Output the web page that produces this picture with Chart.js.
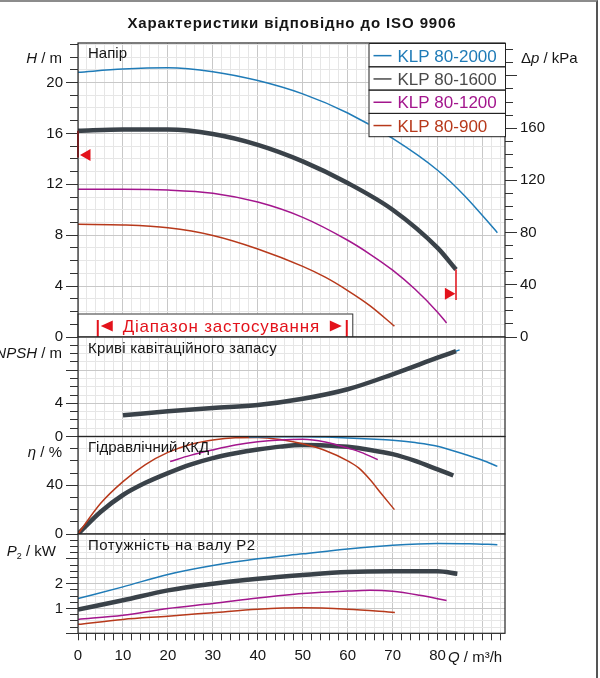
<!DOCTYPE html>
<html lang="uk">
<head>
<meta charset="utf-8">
<title>KLP 80 — характеристики</title>
<script src="https://cdn.jsdelivr.net/npm/chart.js@4.4.1/dist/chart.umd.min.js"></script>
<style>
  html, body { margin: 0; padding: 0; background: #fff; }
  #sheet { position: relative; width: 600px; height: 678px; overflow: hidden; }
  #sheet canvas { position: absolute; left: 0; top: 0; }
  #frame { position: absolute; left: -4px; top: 0; width: 602px; height: 700px;
           border-top: 2px solid #8c8c8c; border-right: 2px solid #555; box-sizing: border-box; }
</style>
</head>
<body>
<div id="sheet">
  <canvas id="headChart" width="600" height="678"></canvas>
  <canvas id="npshChart" width="600" height="678"></canvas>
  <canvas id="effChart" width="600" height="678"></canvas>
  <canvas id="powerChart" width="600" height="678"></canvas>
  <div id="frame"></div>
</div>
<script>
// pump models, same order as the legend
const models = ['KLP 80-2000', 'KLP 80-1600', 'KLP 80-1200', 'KLP 80-900'];

// head H / m
const headQ2000 = [0, 10, 20, 30, 40, 50, 60, 70, 80, 86, 93.3];
const head2000 = [20.8, 21.05, 21.15, 20.85, 20.15, 19.1, 17.6, 15.6, 13.1, 11.1, 8.2];
const headQ1600 = [0, 10, 20, 30, 40, 50, 60, 70, 80, 84.1];
const head1600 = [16.2, 16.3, 16.3, 15.95, 15.1, 13.8, 12.1, 10.0, 7.0, 5.3];
const headQ1200 = [0, 10, 20, 30, 40, 50, 60, 65, 70, 75, 80, 82];
const head1200 = [11.6, 11.6, 11.55, 11.3, 10.6, 9.4, 7.6, 6.5, 5.25, 3.75, 1.95, 1.1];
const headQ900 = [0, 10, 20, 30, 40, 50, 55, 60, 65, 70.4];
const head900 = [8.85, 8.8, 8.58, 7.98, 6.92, 5.55, 4.7, 3.65, 2.45, 0.85];

// NPSH / m
const npshQ2000 = [10, 20, 30, 40, 50, 60, 70, 80, 84.9];
const npsh2000 = [2.55, 3.05, 3.45, 3.8, 4.55, 5.7, 7.5, 9.5, 10.45];
const npshQ1600 = [10, 20, 30, 40, 50, 60, 70, 80, 84.1];
const npsh1600 = [2.55, 3.05, 3.45, 3.8, 4.55, 5.7, 7.5, 9.5, 10.3];

// hydraulic efficiency eta / %
const effQ2000 = [38, 45, 50, 55, 60, 65, 70, 75, 80, 86.3, 90, 93.3];
const eff2000 = [79.5, 79.8, 79.8, 79.5, 78.8, 78, 77, 75, 72, 65, 60.5, 55.5];
const effQ1600 = [0, 5, 10, 15, 20, 25, 30, 35, 40, 45, 50, 55, 60, 65, 70, 75, 80, 83.5];
const eff1600 = [0, 18, 32, 42, 50, 57, 62.3, 66.2, 69.3, 71.7, 73, 72.7, 71.5, 69.0, 65.5, 60, 53, 48];
const effQ1200 = [20.5, 25, 30, 35, 40, 45, 50, 55, 60, 63, 66.7];
const eff1200 = [59.5, 64.5, 69, 73, 75.7, 77.2, 77.7, 75.5, 70.5, 67, 61];
const effQ900 = [0, 5, 10, 15, 20, 25, 30, 35, 40, 45, 50, 55, 60, 62.5, 65, 67.5, 70.4];
const eff900 = [0, 25, 43, 57, 67, 73.5, 77.2, 79, 79.2, 77.5, 74, 68.5, 60, 54, 44.5, 33, 20];

// shaft power P2 / kW
const powQ2000 = [0, 10, 20, 30, 40, 50, 60, 70, 80, 87, 93.3];
const pow2000 = [1.4, 1.87, 2.37, 2.73, 3.0, 3.2, 3.4, 3.55, 3.62, 3.61, 3.57];
const powQ1600 = [0, 10, 20, 30, 40, 50, 60, 70, 80, 84.4];
const pow1600 = [0.96, 1.33, 1.73, 2.0, 2.2, 2.35, 2.47, 2.5, 2.5, 2.4];
const powQ1200 = [0, 10, 20, 30, 40, 50, 60, 65, 70, 76, 82];
const pow1200 = [0.56, 0.73, 1.0, 1.2, 1.42, 1.6, 1.7, 1.73, 1.69, 1.53, 1.32];
const powQ900 = [0, 10, 20, 30, 40, 50, 60, 70.5];
const pow900 = [0.36, 0.56, 0.69, 0.83, 0.97, 1.03, 0.97, 0.84];

// application range and the red limit marks of KLP 80-1600
const rangeQ = [4.4, 59.8];
const leftLimitQ = [0, 0];
const leftLimitH = [16.2, 14.1];
const rightLimitQ = [84.1, 84.1];
const rightLimitH = [5.3, 2.9];
const arrowQ = [2.0, 82.4];
const arrowH = [14.3, 3.4];

// tick labels
const qLabels = [0, 10, 20, 30, 40, 50, 60, 70, 80];
const hLabels = [0, 4, 8, 12, 16, 20];
const dpLabels = [0, 40, 80, 120, 160];
const npshLabels = [0, 4];
const effLabels = [0, 40];
const powLabels = [1, 2];

const lineColors = ['#1f7bb7', '#3a4249', '#a3168d', '#b7391b'];
const legendColors = ['#1f7bb7', '#4a4a4a', '#a3168d', '#b7391b'];
const lineWidths = [1.5, 4.5, 1.5, 1.5];

const PAGE_H = 678;
const Q_MAX = 95;
const LEFT_W = 78;
const RIGHT_W = 95;
const GRID_MAJOR = '#c8c8c8';
const GRID_MINOR = '#e6e6e6';
const INK = '#151515';
const RED = '#e3121b';
const FONT = '"Liberation Sans", Arial, Helvetica, sans-serif';

Chart.defaults.font.family = FONT;
Chart.defaults.font.size = 15;
Chart.defaults.color = INK;

function toPoints(q, v) {
  return q.map((x, i) => ({ x: x, y: v[i] }));
}

function curve(q, v, i) {
  return {
    label: models[i],
    data: toPoints(q, v),
    yAxisID: 'y',
    borderColor: lineColors[i],
    borderWidth: lineWidths[i],
    borderJoinStyle: 'round',
    pointRadius: 0,
    cubicInterpolationMode: 'monotone',
    order: i === 1 ? 5 : i
  };
}

function xScale(bottom, showLabels) {
  return {
    type: 'linear', min: 0, max: Q_MAX,
    afterFit: s => { s.height = PAGE_H - bottom; },
    ticks: {
      display: showLabels, stepSize: 2, includeBounds: false, autoSkip: false, maxRotation: 0, padding: 7,
      callback: v => qLabels.includes(v) ? String(v) : ''
    },
    grid: {
      color: c => c.tick.value % 10 === 0 ? GRID_MAJOR : GRID_MINOR,
      drawTicks: showLabels, tickLength: 7, tickColor: '#333'
    },
    border: { display: false }
  };
}

// a labelled axis with long ticks plus a thin one with the short minor ticks
function yPair(id, o) {
  const scales = {};
  scales[id] = {
    type: 'linear', position: o.position, min: o.min, max: o.max, weight: 1,
    afterFit: s => { s.width = o.width; },
    ticks: {
      stepSize: o.major, includeBounds: false, autoSkip: false, padding: 3,
      callback: v => o.labels.includes(v) ? String(v) : ''
    },
    grid: { drawOnChartArea: o.grid, color: GRID_MAJOR, tickLength: 12, tickColor: '#333' },
    border: { display: false }
  };
  scales[id + 'Minor'] = {
    type: 'linear', position: o.position, min: o.min, max: o.max, weight: 0,
    afterFit: s => { s.width = 0; },
    ticks: { display: false, stepSize: o.minor, includeBounds: false, autoSkip: false },
    grid: {
      drawOnChartArea: o.grid,
      color: c => Math.abs(c.tick.value % o.major) < 1e-9 ? 'rgba(0,0,0,0)' : GRID_MINOR,
      tickLength: 8, tickColor: '#333'
    },
    border: { display: false }
  };
  return scales;
}

function drawText(ctx, parts, x, y, align, spacing) {
  ctx.letterSpacing = (spacing || 0) + 'px';
  const fonts = parts.map(p => (p.italic ? 'italic ' : '') + (p.bold ? 'bold ' : '') + (p.size || 15) + 'px ' + FONT);
  const widths = parts.map((p, i) => { ctx.font = fonts[i]; return ctx.measureText(p.text).width; });
  const total = widths.reduce((s, w) => s + w, 0);
  let cx = align === 'right' ? x - total : align === 'center' ? x - total / 2 : x;
  ctx.textAlign = 'left';
  ctx.textBaseline = 'alphabetic';
  parts.forEach((p, i) => {
    ctx.font = fonts[i];
    ctx.fillStyle = p.color || INK;
    ctx.fillText(p.text, cx, y + (p.dy || 0));
    cx += widths[i];
  });
  ctx.letterSpacing = '0px';
}

function decor(after, before) {
  return {
    id: 'decor',
    beforeDatasetsDraw(chart) {
      if (before) {
        chart.ctx.save();
        before(chart, chart.ctx);
        chart.ctx.restore();
      }
    },
    afterDraw(chart) {
      const a = chart.chartArea;
      const ctx = chart.ctx;
      ctx.save();
      ctx.strokeStyle = '#262626';
      ctx.lineWidth = 1.2;
      ctx.strokeRect(a.left, a.top, a.right - a.left, a.bottom - a.top);
      after(chart, ctx);
      ctx.restore();
    }
  };
}

function makeChart(canvasId, top, bottom, opts) {
  const scales = Object.assign({ x: xScale(bottom, !!opts.xLabels) }, opts.scales);
  return new Chart(document.getElementById(canvasId), {
    type: 'line',
    data: { datasets: opts.datasets },
    options: {
      responsive: false,
      animation: false,
      events: [],
      layout: { padding: { top: top, left: 0, right: opts.rightPad, bottom: 0 } },
      scales: scales,
      plugins: { legend: { display: false }, tooltip: { enabled: false } }
    },
    plugins: [decor(opts.after, opts.before)]
  });
}

// --- head panel ---
const headSeries = [[headQ2000, head2000], [headQ1600, head1600], [headQ1200, head1200], [headQ900, head900]];
const headDatasets = headSeries.map((s, i) => curve(s[0], s[1], i));
headDatasets.push(
  { data: toPoints(leftLimitQ, leftLimitH), yAxisID: 'y', borderColor: RED, borderWidth: 2, pointRadius: 0, clip: false, order: 0 },
  { data: toPoints(rightLimitQ, rightLimitH), yAxisID: 'y', borderColor: RED, borderWidth: 1.5, pointRadius: 0, clip: false, order: 0 },
  { data: toPoints(arrowQ, arrowH), yAxisID: 'y', showLine: false, pointStyle: 'triangle', pointRotation: [-90, 90],
    pointRadius: 7, pointBackgroundColor: RED, pointBorderWidth: 0, clip: false, order: 0 }
);

makeChart('headChart', 43, 337, {
  rightPad: 0,
  datasets: headDatasets,
  scales: Object.assign(
    yPair('y', { position: 'left', min: 0, max: 23.1, minor: 1, major: 4, labels: hLabels, width: LEFT_W, grid: true }),
    yPair('dp', { position: 'right', min: 0, max: 225.2, minor: 10, major: 40, labels: dpLabels, width: RIGHT_W, grid: false })
  ),
  before: (chart, ctx) => {
    const a = chart.chartArea;
    const xs = chart.scales.x;
    const barL = xs.getPixelForValue(rangeQ[0]);
    const barR = xs.getPixelForValue(rangeQ[1]);
    const boxTop = a.bottom - 23.5;
    ctx.fillStyle = '#fff';
    ctx.fillRect(a.left, boxTop, barR + 6 - a.left, a.bottom - boxTop);
    ctx.strokeStyle = '#333';
    ctx.lineWidth = 1;
    ctx.strokeRect(a.left, boxTop + 0.5, barR + 6 - a.left, a.bottom - boxTop);
    ctx.strokeStyle = RED;
    ctx.lineWidth = 2;
    ctx.beginPath();
    ctx.moveTo(barL, a.bottom - 17); ctx.lineTo(barL, a.bottom);
    ctx.moveTo(barR, a.bottom - 17); ctx.lineTo(barR, a.bottom);
    ctx.stroke();
    const mid = a.bottom - 11;
    ctx.fillStyle = RED;
    ctx.beginPath();
    ctx.moveTo(barL + 3, mid); ctx.lineTo(barL + 15, mid - 5.5); ctx.lineTo(barL + 15, mid + 5.5);
    ctx.closePath(); ctx.fill();
    ctx.beginPath();
    ctx.moveTo(barR - 5, mid); ctx.lineTo(barR - 17, mid - 5.5); ctx.lineTo(barR - 17, mid + 5.5);
    ctx.closePath(); ctx.fill();
    drawText(ctx, [{ text: 'Діапазон застосування', size: 17, color: RED }], (barL + barR) / 2 - 1, a.bottom - 5, 'center', 0.8);
  },
  after: (chart, ctx) => {
    const a = chart.chartArea;
    drawText(ctx, [{ text: 'Характеристики відповідно до ISO 9906', bold: true, size: 15 }], 292, 28, 'center', 0.9);
    drawText(ctx, [{ text: 'Напір' }], a.left + 10, 57.5, 'left');
    drawText(ctx, [{ text: 'H', italic: true }, { text: ' / m' }], 62, 63, 'right');
    drawText(ctx, [{ text: 'Δ' }, { text: 'p', italic: true }, { text: ' / kPa' }], 521, 63, 'left');
    // legend table
    const lx = 368.5;
    const lw = a.right - lx;
    const rowH = 23.3;
    ctx.fillStyle = '#fff';
    ctx.fillRect(lx, a.top, lw, rowH * models.length);
    models.forEach((m, i) => {
      const y = a.top + i * rowH;
      ctx.strokeStyle = '#222';
      ctx.lineWidth = 1;
      ctx.strokeRect(lx + 0.5, y + 0.5, lw, rowH);
      ctx.strokeStyle = legendColors[i];
      ctx.lineWidth = 1.5;
      ctx.beginPath();
      ctx.moveTo(lx + 5, y + rowH / 2 + 1);
      ctx.lineTo(lx + 23, y + rowH / 2 + 1);
      ctx.stroke();
      drawText(ctx, [{ text: m, size: 17, color: legendColors[i] }], lx + 29, y + rowH / 2 + 7, 'left');
    });
  }
});

// --- NPSH panel ---
makeChart('npshChart', 337, 436.5, {
  rightPad: RIGHT_W,
  datasets: [curve(npshQ2000, npsh2000, 0), curve(npshQ1600, npsh1600, 1)].map(d => Object.assign(d, { order: d.label === models[1] ? 0 : 5 })),
  scales: yPair('y', { position: 'left', min: 0, max: 12, minor: 1, major: 4, labels: npshLabels, width: LEFT_W, grid: true }),
  after: (chart, ctx) => {
    const a = chart.chartArea;
    drawText(ctx, [{ text: 'Криві кавітаційного запасу' }], a.left + 10, 352.5, 'left', 0.2);
    drawText(ctx, [{ text: 'NPSH', italic: true }, { text: ' / m' }], 62, 358, 'right');
  }
});

// --- efficiency panel ---
const effSeries = [[effQ2000, eff2000], [effQ1600, eff1600], [effQ1200, eff1200], [effQ900, eff900]];
makeChart('effChart', 436.5, 534, {
  rightPad: RIGHT_W,
  datasets: effSeries.map((s, i) => curve(s[0], s[1], i)),
  scales: yPair('y', { position: 'left', min: 0, max: 80, minor: 10, major: 40, labels: effLabels, width: LEFT_W, grid: true }),
  after: (chart, ctx) => {
    const a = chart.chartArea;
    drawText(ctx, [{ text: 'Гідравлічний ККД' }], a.left + 10, 451.5, 'left');
    drawText(ctx, [{ text: 'η', italic: true }, { text: ' / %' }], 62, 457, 'right');
  }
});

// --- power panel ---
const powSeries = [[powQ2000, pow2000], [powQ1600, pow1600], [powQ1200, pow1200], [powQ900, pow900]];
makeChart('powerChart', 534, 633.3, {
  rightPad: RIGHT_W,
  xLabels: true,
  datasets: powSeries.map((s, i) => curve(s[0], s[1], i)),
  scales: yPair('y', { position: 'left', min: 0, max: 4, minor: 0.25, major: 1, labels: powLabels, width: LEFT_W, grid: true }),
  after: (chart, ctx) => {
    const a = chart.chartArea;
    drawText(ctx, [{ text: 'Потужність на валу P2' }], a.left + 10, 549.5, 'left', 0.5);
    drawText(ctx, [{ text: 'P', italic: true }, { text: '2', size: 9, dy: 3 }, { text: ' / kW' }], 56, 556, 'right');
    drawText(ctx, [{ text: 'Q', italic: true }, { text: ' / m³/h' }], 448, 661.5, 'left');
  }
});
</script>
</body>
</html>
